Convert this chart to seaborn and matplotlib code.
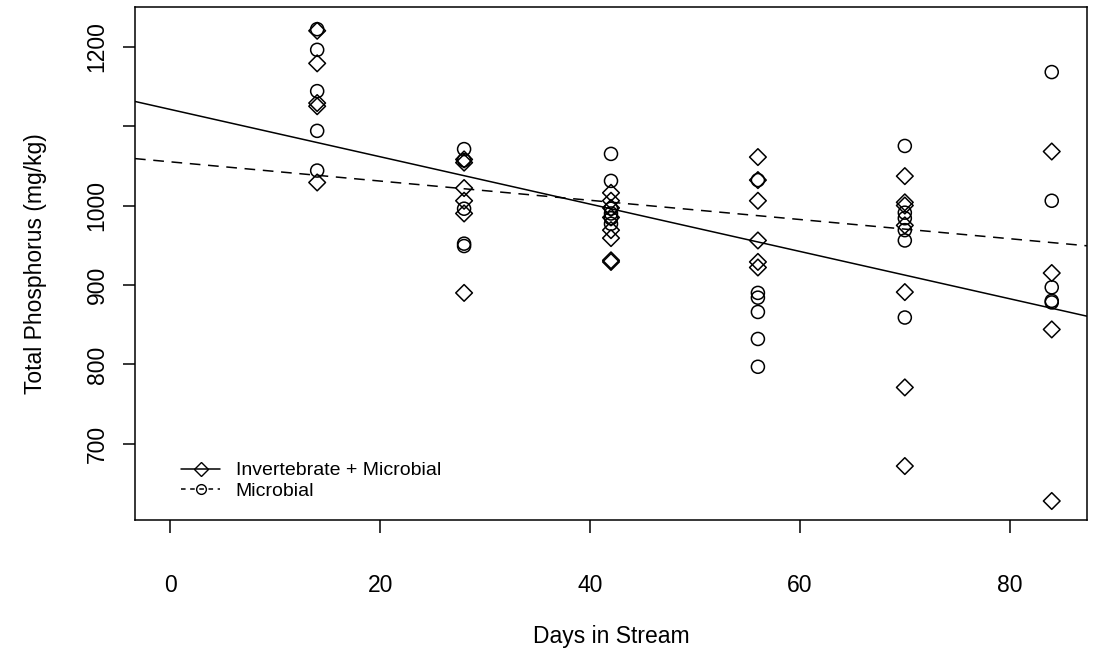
import numpy as np
import pandas as pd
import matplotlib
matplotlib.use("Agg")
import matplotlib.pyplot as plt
import seaborn as sns
from matplotlib.lines import Line2D

# ---- data ----
days_inv = [14]*5 + [28]*6 + [42]*8 + [56]*6 + [70]*7 + [84]*4
tp_inv = [1220, 1179, 1129, 1125, 1029,
          1058, 1054, 1022, 1006, 990, 890,
          1016, 1006, 997, 985, 969, 959, 931, 929,
          1061, 1032, 1006, 956, 929, 922,
          1037, 1004, 1000, 975, 891, 771, 672,
          1068, 915, 844, 628]

days_mic = [14]*5 + [28]*5 + [42]*6 + [56]*6 + [70]*6 + [84]*5
tp_mic = [1222, 1196, 1144, 1094, 1044,
          1071, 1057, 996, 952, 949,
          1065, 1031, 996, 990, 984, 977,
          1032, 890, 884, 866, 832, 797,
          1075, 991, 984, 969, 956, 859,
          1168, 1006, 897, 880, 878]

# fitted lines (intercept, slope)
fit_inv = (1121.0, -2.98)
fit_mic = (1055.0, -1.21)

x_ticks = [0, 20, 40, 60, 80]
y_ticks = [700, 800, 900, 1000, 1100, 1200]
y_ticklabels = ["700", "800", "900", "1000", "", "1200"]
labels = ["Invertebrate + Microbial", "Microbial"]

df_inv = pd.DataFrame({"days": days_inv, "tp": tp_inv})
df_mic = pd.DataFrame({"days": days_mic, "tp": tp_mic})

sns.set_theme(style="white")
plt.rcParams["font.family"] = ["Liberation Sans", "DejaVu Sans"]
for k in ["text.color", "axes.labelcolor", "xtick.color", "ytick.color"]:
    plt.rcParams[k] = "black"

fig = plt.figure(figsize=(10.94, 6.55), dpi=100)
ax = fig.add_axes([0.1234, 0.2061, 0.9936 - 0.1234, 0.9893 - 0.2061])

sns.scatterplot(data=df_inv, x="days", y="tp", marker="D", s=72,
                color="none", edgecolor="black", linewidth=1.1, ax=ax, zorder=3)
sns.scatterplot(data=df_mic, x="days", y="tp", marker="o", s=88,
                color="none", edgecolor="black", linewidth=1.1, ax=ax, zorder=3)

ax.set_xlim(-3.36, 87.36)
ymin, ymax = 628, 1226
pad = 0.04 * (ymax - ymin)
ax.set_ylim(ymin - pad, ymax + pad)

ax.axline((0, fit_inv[0]), slope=fit_inv[1], color="black", lw=1.1, ls="-")
ax.axline((0, fit_mic[0]), slope=fit_mic[1], color="black", lw=1.1, ls=(0, (7, 5)))

ax.set_xticks(x_ticks)
ax.set_yticks(y_ticks)
ax.set_yticklabels(y_ticklabels, rotation=90, va="center")
ax.tick_params(axis="both", direction="out", length=9, width=1.1,
               color="black", labelsize=16.5, bottom=True, left=True)
ax.tick_params(axis="x", pad=30)
ax.tick_params(axis="y", pad=10)

for sp in ax.spines.values():
    sp.set_color("black")
    sp.set_linewidth(1.1)

ax.set_xlabel("Days in Stream", fontsize=16.5, labelpad=20)
ax.set_ylabel("Total Phosphorus (mg/kg)", fontsize=16.5, labelpad=28)

handles = [
    Line2D([0], [0], color="black", lw=1.1, ls="-", marker="D", markersize=7,
           markerfacecolor="none", markeredgecolor="black"),
    Line2D([0], [0], color="black", lw=1.1, ls=(0, (3, 3)), marker="o", markersize=7,
           markerfacecolor="none", markeredgecolor="black"),
]
ax.legend(handles, labels, loc="lower left", bbox_to_anchor=(0.03, 0.005),
          frameon=False, fontsize=14, handlelength=2.0, handletextpad=0.8,
          labelspacing=0.15)

fig.savefig("out.png", dpi=100)
